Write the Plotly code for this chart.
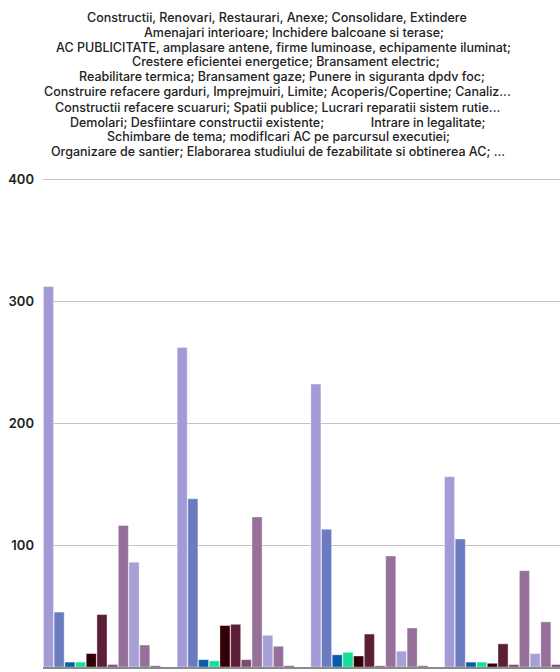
import plotly.graph_objects as go

# categories on the x axis (labels fall below the visible area)
categories = ["1", "2", "3", "4"]

series_names = [
    "Constructii, Renovari, Restaurari, Anexe; Consolidare, Extindere",
    "Amenajari interioare; Inchidere balcoane si terase;",
    "AC PUBLICITATE, amplasare antene, firme luminoase, echipamente iluminat;",
    "Crestere eficientei energetice; Bransament electric;",
    "Reabilitare termica; Bransament gaze; Punere in siguranta dpdv foc;",
    "Construire refacere garduri, Imprejmuiri, Limite; Acoperis/Copertine; Canaliz...",
    "Constructii refacere scuaruri; Spatii publice; Lucrari reparatii sistem rutie...",
    "Demolari; Desfiintare constructii existente;",
    "Intrare in legalitate;",
    "Schimbare de tema; modifIcari AC pe parcursul executiei;",
    "Organizare de santier; Elaborarea studiului de fezabilitate si obtinerea AC; ...",
]

values = [
    [312, 262, 232, 156],
    [45, 138, 113, 105],
    [4, 6, 10, 4],
    [4, 5, 12, 4],
    [11, 34, 9, 3],
    [43, 35, 27, 19],
    [2, 6, 1, 2],
    [116, 123, 91, 79],
    [86, 26, 13, 11],
    [18, 17, 32, 37],
    [1, 1, 1, 2],
]

colors = ["#a39bd5", "#6a7bc0", "#0a5ca8", "#13e096", "#320006", "#5c1f38",
          "#7f4a72", "#957099", "#a89fd8", "#957099", "#7f4a72"]

fig = go.Figure()
for name, vals, col in zip(series_names, values, colors):
    fig.add_trace(go.Bar(x=categories, y=vals, name=name,
                         marker=dict(color=col, line=dict(color="rgba(255,255,255,0.6)", width=0.6))))

# legend-like text block at the top, built from the series names
lines = [series_names[0], series_names[1], series_names[2], series_names[3], series_names[4],
         series_names[5], series_names[6],
         series_names[7] + "&nbsp;" * 14 + series_names[8],
         series_names[9], series_names[10]]
line_centers = [277, 294, 283, 286, 282, 277, 277, 278, 278, 278]

W, H = 560, 672
L, T, B = 43, 178, 5
pw, ph = W - L, H - T - B
for i, (txt, cx) in enumerate(zip(lines, line_centers)):
    cy = 17 + 15 * i
    fig.add_annotation(text=txt, showarrow=False,
                       x=(cx - L) / pw, xref="paper", xanchor="center",
                       y=1 + (T - cy) / ph, yref="paper", yanchor="middle",
                       font=dict(family="Inter", size=12.5, color="#222", weight=500))

fig.update_layout(
    width=W, height=H,
    margin=dict(l=L, r=0, t=T, b=B),
    barmode="group", bargap=0.12, bargroupgap=0.06,
    showlegend=False,
    plot_bgcolor="white", paper_bgcolor="white",
    font=dict(family="Inter", color="#222"),
)
fig.update_xaxes(range=[-0.441, 3.426], showticklabels=False, showgrid=False,
                 showline=True, linecolor="#8a8a8a", linewidth=1.5, automargin=False)
fig.update_yaxes(range=[0, 401], tickvals=[0, 100, 200, 300, 400], gridcolor="#c4c4c4", gridwidth=1,
                 zeroline=False, ticklabelstandoff=8,
                 tickfont=dict(size=13, weight=600, color="#222"), automargin=False)

# no page margin / scrollbars around the fixed-size figure, no modebar
fig.write_html("out.html", config={"displayModeBar": False},
               post_script="document.body.style.margin='0';document.body.style.overflow='hidden';")
